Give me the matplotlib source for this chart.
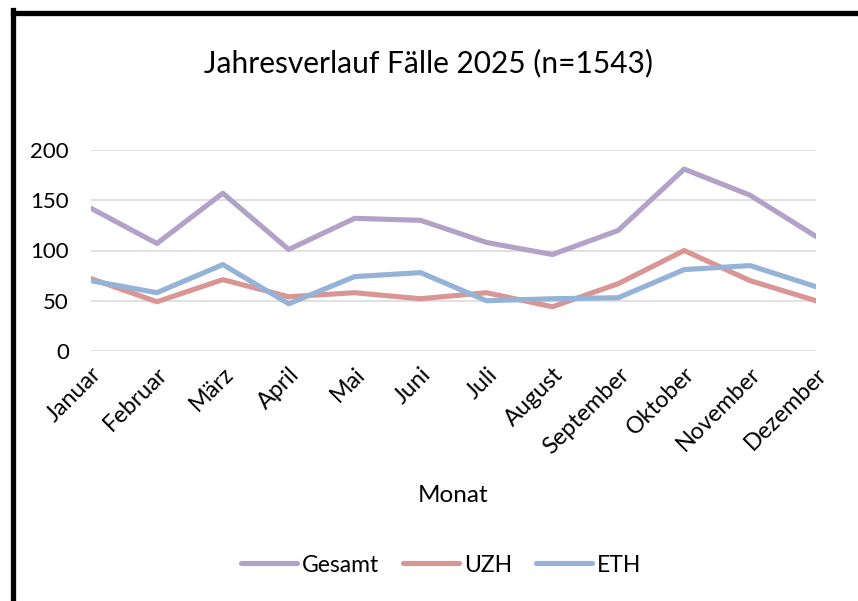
import matplotlib
matplotlib.use("Agg")
import matplotlib.pyplot as plt
from matplotlib.lines import Line2D

plt.rcParams['font.family'] = ['Lato', 'DejaVu Sans']

months = ["Januar", "Februar", "März", "April", "Mai", "Juni", "Juli",
          "August", "September", "Oktober", "November", "Dezember"]
gesamt = [142, 107, 157, 101, 132, 130, 108, 96, 120, 181, 155, 114]
uzh = [72, 49, 71, 54, 58, 52, 58, 44, 67, 100, 70, 50]
eth = [70, 58, 86, 47, 74, 78, 50, 52, 53, 81, 85, 64]
yticks = [0, 50, 100, 150, 200]

W, H = 858, 601
fig = plt.figure(figsize=(W / 100, H / 100), dpi=100)
ax = fig.add_axes([91 / W, 1 - 351 / H, (816 - 91) / W, (351 - 150) / H])

x = list(range(len(months)))
lw = 3.7
ax.plot(x, gesamt, color="#B3A2C7", lw=lw, label="Gesamt", solid_joinstyle="round", solid_capstyle="round")
ax.plot(x, uzh, color="#D99694", lw=lw, label="UZH", solid_joinstyle="round", solid_capstyle="round")
ax.plot(x, eth, color="#95B3D7", lw=lw, label="ETH", solid_joinstyle="round", solid_capstyle="round")

ax.set_xlim(0, len(months) - 1)
ax.set_ylim(0, 200)
ax.set_yticks(yticks)
ax.set_xticks(x)
ax.set_xticklabels(months, rotation=45, ha="right", rotation_mode="anchor", fontsize=16.8)
ax.tick_params(axis="both", length=0, colors="#000000")
ax.tick_params(axis="y", pad=16, labelsize=16)
ax.tick_params(axis="x", pad=9)
ax.grid(axis="y", color="#D9D9D9", lw=1.1)
ax.set_axisbelow(True)
for s in ax.spines.values():
    s.set_visible(False)

ax.set_xlabel("Monat", fontsize=17.5, labelpad=20)
fig.text(428 / W, 1 - 63 / H, "Jahresverlauf Fälle 2025 (n=1543)", fontsize=21.5,
         ha="center", va="center")

leg = fig.legend(loc="center", bbox_to_anchor=(441 / W, 1 - 565 / H), ncol=3,
                 frameon=False, fontsize=16.5, handlelength=2.45, handletextpad=0.2,
                 columnspacing=1.05)
for h in leg.get_lines():
    h.set_solid_capstyle("round")

# black frame (top and left)
fig.add_artist(Line2D([12.5 / W, 12.5 / W], [0, 1 - 10 / H], color="black", lw=3.8,
                      transform=fig.transFigure, solid_capstyle="projecting"))
fig.add_artist(Line2D([12.5 / W, 1], [1 - 12.5 / H, 1 - 12.5 / H], color="black", lw=3.8,
                      transform=fig.transFigure, solid_capstyle="projecting"))

fig.savefig("out.png", dpi=100)
